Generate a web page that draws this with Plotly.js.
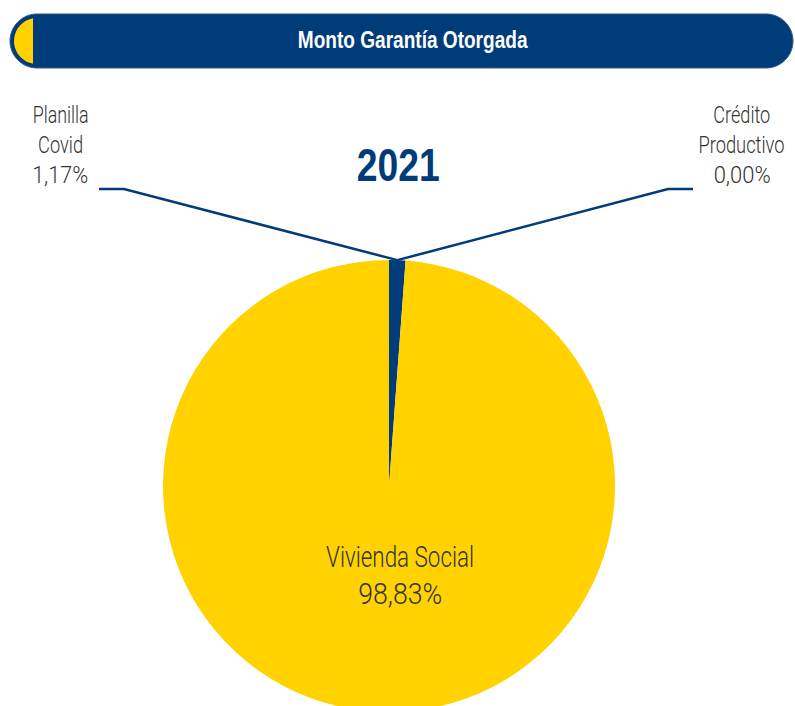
<!DOCTYPE html>
<html>
<head>
<meta charset="utf-8">
<script src="https://cdn.plot.ly/plotly-3.0.1.min.js"></script>
<style>
html,body{margin:0;padding:0;overflow:hidden;background:#fff;}
#chart{width:795px;height:720px;}
</style>
</head>
<body>
<div id="chart"></div>
<script>
// ---- data ----
const chartTitle = "Monto Garantía Otorgada";
const year = "2021";
const categories = ["Planilla Covid", "Vivienda Social", "Crédito Productivo"];
const labelLines = [["Planilla", "Covid"], ["Vivienda Social"], ["Crédito", "Productivo"]];
const shares = [1.17, 98.83, 0.00];
const sliceColors = ["#003B7A", "#FFD200", "#7F7F7F"];

// ---- geometry helpers (pixel -> paper) ----
const W = 795, H = 720;
const px = x => x / W;
const py = y => (H - y) / H;
const BLUE = "#003B7A";
const YELLOW = "#FFD200";
const TXT = "#333333";
const LIGHT = "Roboto, 'DejaVu Sans', sans-serif";
const BOLD = "'Liberation Sans', Arial, sans-serif";

const pie = {cx: 389, cy: 486, r: 226};

function arc(cx, cy, r, a0, a1, n) {
  const pts = [];
  for (let i = 0; i <= n; i++) {
    const a = (a0 + (a1 - a0) * i / n) * Math.PI / 180;
    pts.push([cx + r * Math.cos(a), cy + r * Math.sin(a)]);
  }
  return pts;
}
function pathFrom(pts) {
  return pts.map((p, i) => (i ? "L" : "M") + px(p[0]).toFixed(5) + "," + py(p[1]).toFixed(5)).join(" ") + " Z";
}

// header bar
const bar = {x0: 37, x1: 766, yc: 41, r: 27};
let barPts = [[bar.x0, bar.yc - bar.r], [bar.x1, bar.yc - bar.r]]
  .concat(arc(bar.x1, bar.yc, bar.r, -90, 90, 40))
  .concat([[bar.x0, bar.yc + bar.r]])
  .concat(arc(bar.x0, bar.yc, bar.r, 90, 270, 40));
const yr = 23, cut = 33;
const a0 = Math.acos((cut - bar.x0) / yr) * 180 / Math.PI;
const yelPts = arc(bar.x0, bar.yc, yr, a0, 360 - a0, 40);

// leader anchor from data: middle of first slice
const midAng = shares[0] / 2 / 100 * 2 * Math.PI;
const ax = pie.cx + pie.r * Math.sin(midAng);
const ay = pie.cy - pie.r * Math.cos(midAng);

const fmt = v => v.toFixed(2).replace(".", ",") + "%";

const shapes = [
  {type: "path", xref: "paper", yref: "paper", path: pathFrom(barPts), fillcolor: BLUE, line: {color: "#2f5d93", width: 1}, layer: "above"},
  {type: "path", xref: "paper", yref: "paper", path: pathFrom(yelPts), fillcolor: YELLOW, line: {width: 0}, layer: "above"},
  {type: "path", xref: "paper", yref: "paper",
   path: `M${px(99)},${py(189)} L${px(124)},${py(189)} L${px(ax)},${py(ay)}`,
   line: {color: BLUE, width: 2.5}, layer: "above"},
  {type: "path", xref: "paper", yref: "paper",
   path: `M${px(693)},${py(189)} L${px(668)},${py(189)} L${px(ax)},${py(ay)}`,
   line: {color: BLUE, width: 2.5}, layer: "above"}
];

// text lines: [text, centre x, centre y, font, size, weight, colour, condensed width]
const textLines = [
  ["<b>" + chartTitle + "</b>", 412.5, 40, BOLD, 23, 700, "#ffffff", 230],
  ["<b>" + year + "</b>", 398.5, 165, BOLD, 47, 700, BLUE, 83],
  [labelLines[0][0], 60, 115, LIGHT, 24, 300, TXT, 56],
  [labelLines[0][1], 60, 145, LIGHT, 24, 300, TXT, 45],
  [fmt(shares[0]), 60, 175, LIGHT, 24, 300, TXT, 56],
  [labelLines[2][0], 741.5, 115, LIGHT, 24, 300, TXT, 57],
  [labelLines[2][1], 741, 145, LIGHT, 24, 300, TXT, 86],
  [fmt(shares[2]), 741.5, 175, LIGHT, 24, 300, TXT, 57],
  [labelLines[1][0], 400, 556, LIGHT, 30, 300, TXT, 148],
  [fmt(shares[1]), 400, 593, LIGHT, 30, 300, TXT, 84]
];

const annotations = textLines.map(l => ({
  text: l[0], x: px(l[1]), y: py(l[2]), xref: "paper", yref: "paper",
  showarrow: false, xanchor: "center", yanchor: "middle",
  font: {family: l[3], size: l[4], weight: l[5], color: l[6]}
}));

const trace = {
  type: "pie",
  labels: categories,
  values: shares,
  sort: false,
  direction: "clockwise",
  rotation: 0,
  marker: {colors: sliceColors, line: {width: 0}},
  textinfo: "none",
  hoverinfo: "label+percent",
  showlegend: false,
  domain: {x: [px(pie.cx - pie.r), px(pie.cx + pie.r)], y: [py(pie.cy + pie.r), py(pie.cy - pie.r)]}
};

Plotly.newPlot("chart", [trace], {
  width: W, height: H,
  margin: {l: 0, r: 0, t: 0, b: 0, pad: 0},
  paper_bgcolor: "#ffffff",
  showlegend: false,
  shapes: shapes,
  annotations: annotations
}, {displayModeBar: false, staticPlot: true}).then(gd => {
  // emulate the condensed typeface of the original by narrowing each text line
  gd.querySelectorAll("g.annotation").forEach(g => {
    const i = +g.getAttribute("data-index");
    const t = g.querySelector("text.annotation-text");
    if (!t || !textLines[i]) return;
    const w = t.getBBox().width;
    if (!w) return;
    const s = textLines[i][7] / w;
    t.style.transformBox = "fill-box";
    t.style.transformOrigin = "center";
    t.style.transform = "scaleX(" + s.toFixed(4) + ")";
  });
});
</script>
</body>
</html>
